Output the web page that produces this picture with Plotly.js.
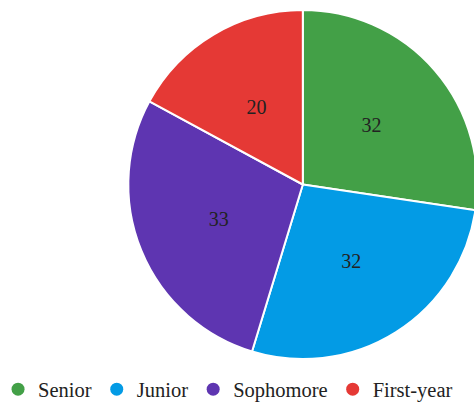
<!DOCTYPE html>
<html>
<head>
<meta charset="utf-8">
<script src="https://cdn.plot.ly/plotly-3.0.1.min.js"></script>
<style>
html,body{margin:0;padding:0;overflow:hidden;background:#fff;}
#chart{width:474px;height:402px;}
</style>
</head>
<body>
<div id="chart"></div>
<script>
const categories = ["Senior", "Junior", "Sophomore", "First-year"];
const values = [32, 32, 33, 20];
const colors = ["#43A047", "#039BE5", "#5E35B1", "#E53935"];

const font = '"Liberation Serif", "Times New Roman", serif';

const traces = [{
  type: "pie",
  labels: categories,
  values: values,
  sort: false,
  direction: "clockwise",
  rotation: 0,
  marker: {colors: colors, line: {color: "#ffffff", width: 2}},
  textinfo: "none",
  hoverinfo: "label+value",
  showlegend: false,
  domain: {x: [0.261, 0.975], y: [0, 1]}
}, {
  type: "pie",
  labels: categories,
  values: values,
  sort: false,
  direction: "clockwise",
  rotation: 0,
  hole: 0.5,
  marker: {colors: ["rgba(0,0,0,0)", "rgba(0,0,0,0)", "rgba(0,0,0,0)", "rgba(0,0,0,0)"], line: {width: 0}},
  textinfo: "value",
  textposition: "inside",
  insidetextorientation: "horizontal",
  textfont: {family: font, size: 20, color: "#222222"},
  hoverinfo: "skip",
  showlegend: false,
  domain: {x: [0.371, 0.865], y: [0.153, 0.847]}
}];

categories.forEach((c, i) => {
  traces.push({
    type: "scatter",
    mode: "markers",
    x: [null], y: [null],
    name: c,
    marker: {color: colors[i], size: 13, symbol: "circle"},
    showlegend: true,
    hoverinfo: "skip"
  });
});

const layout = {
  width: 490,
  height: 402,
  margin: {l: 0, r: 0, t: 10, b: 43, autoexpand: false},
  paper_bgcolor: "#ffffff",
  plot_bgcolor: "#ffffff",
  font: {family: font, size: 20, color: "#222222"},
  xaxis: {visible: false},
  yaxis: {visible: false},
  showlegend: true,
  legend: {orientation: "h", x: -0.004, xanchor: "left", y: -0.087, yanchor: "middle", yref: "paper",
           font: {family: font, size: 20.5, color: "#222222"}, itemwidth: 30}
};

Plotly.newPlot("chart", traces, layout, {displayModeBar: false, staticPlot: true});
</script>
</body>
</html>
